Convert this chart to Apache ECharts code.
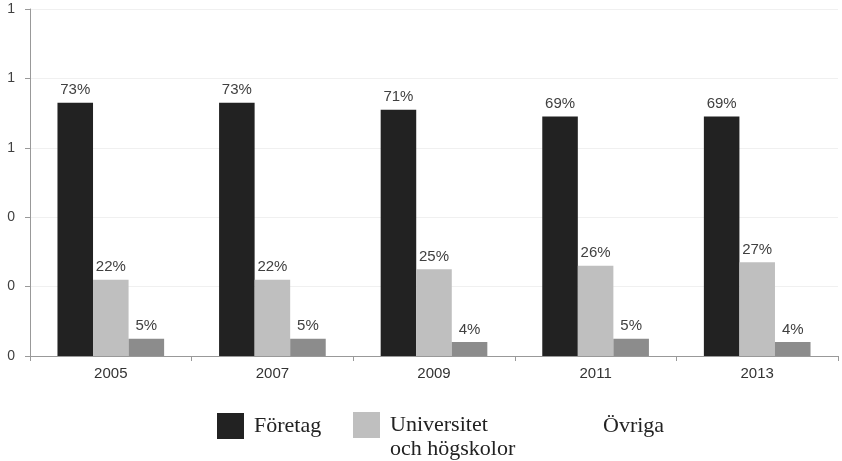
<!DOCTYPE html>
<html><head><meta charset="utf-8">
<script src="https://cdn.jsdelivr.net/npm/echarts@6/dist/echarts.min.js"></script>
<style>html,body{margin:0;padding:0;background:#fff}#c{width:842px;height:461px}</style>
</head><body><div id="c"></div>
<script>
const years = ['2005','2007','2009','2011','2013'];
const foretag = [0.73,0.73,0.71,0.69,0.69];
const univ = [0.22,0.22,0.25,0.26,0.27];
const ovriga = [0.05,0.05,0.04,0.05,0.04];
const seriesNames = ['Företag','Universitet och högskolor','Övriga'];
const colors = ['#222222','#bfbfbf','#8c8c8c'];

const chart = echarts.init(document.getElementById('c'), null, {renderer:'canvas'});
const lbl = {show:true, position:'top', distance:5, color:'#404040', fontFamily:'Liberation Sans, Arial, sans-serif', fontSize:15,
  formatter: p => Math.round(p.value*100)+'%'};
const legText = {fontFamily:'Liberation Serif, Times New Roman, serif', fontSize:22, color:'#222', lineHeight:24};
function leg(name, left, top, extra){
  return Object.assign({show:true, left:left, top:top, padding:0, orient:'horizontal', itemWidth:27, itemHeight:26, itemGap:10,
    icon:'rect', selectedMode:false, data:[name], textStyle:Object.assign({}, legText, {padding:[0,0,0,5]})}, extra||{});
}
chart.setOption({
  animation:false,
  grid:{left:30, right:4, top:9, bottom:105, containLabel:false},
  legend:[
    leg('Företag', 217, 413),
    leg('Universitet och högskolor', 353, 389, {formatter: n => '\nUniversitet\noch högskolor'}),
    leg('Övriga', 566, 413, {data:[{name:'Övriga', itemStyle:{opacity:0}}]})
  ],
  xAxis:{type:'category', data:years,
    axisLine:{lineStyle:{color:'#999', width:1}},
    axisTick:{show:true, length:5, lineStyle:{color:'#999'}},
    axisLabel:{color:'#333', fontFamily:'Liberation Sans, Arial, sans-serif', fontSize:15, margin:10}},
  yAxis:{type:'value', min:0, max:1, interval:0.2,
    axisLine:{show:true, lineStyle:{color:'#999'}},
    axisTick:{show:true, length:5, lineStyle:{color:'#999'}},
    splitLine:{show:true, lineStyle:{color:'#f0f0f0'}},
    axisLabel:{color:'#404040', fontFamily:'Liberation Sans, Arial, sans-serif', fontSize:14, margin:15,
      formatter: v => String(Math.round(v))}},
  series:[
    {name:seriesNames[0], type:'bar', data:foretag, itemStyle:{color:colors[0]}, barGap:'0%', barCategoryGap:'34%', label:lbl},
    {name:seriesNames[1], type:'bar', data:univ, itemStyle:{color:colors[1]}, barGap:'0%', barCategoryGap:'34%', label:lbl},
    {name:seriesNames[2], type:'bar', data:ovriga, itemStyle:{color:colors[2]}, barGap:'0%', barCategoryGap:'34%', label:lbl}
  ]
});
</script></body></html>
